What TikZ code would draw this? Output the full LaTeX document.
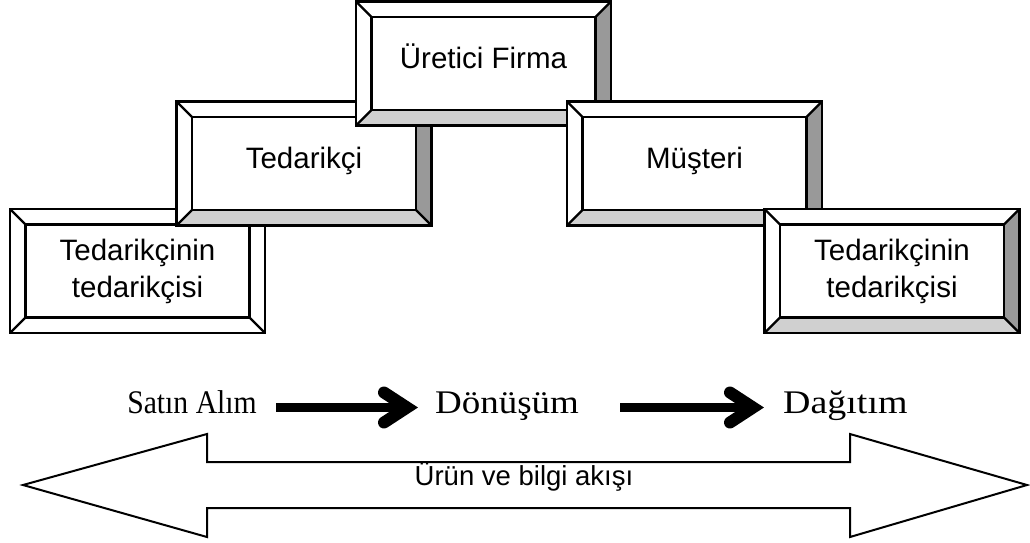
\documentclass[tikz,border=0pt]{standalone}
\usepackage{graphicx}
\usepackage{fontspec}
\setmainfont{Liberation Serif}
\setsansfont{Liberation Sans}
\usetikzlibrary{calc}
\definecolor{bevellight}{HTML}{D0D0D0}
\definecolor{beveldark}{HTML}{999999}
\newcommand\bv{15.5pt}
\begin{document}
\begin{tikzpicture}[x=1pt,y=-1pt,
  bevelbox/.style 2 args={draw=black, line width=2.4pt, fill=white,
    minimum width=255pt, minimum height=124pt, inner sep=0pt, align=center,
    font=\fontsize{29.5}{37}\selectfont\sffamily,
    path picture={
      \path (path picture bounding box.north east) coordinate (pne)
            (path picture bounding box.south east) coordinate (pse)
            (path picture bounding box.south west) coordinate (psw)
            (path picture bounding box.north west) coordinate (pnw);
      \fill[#1] (pne) -- (pse) -- ([shift={(-\bv,\bv)}]pse) -- ([shift={(-\bv,-\bv)}]pne) -- cycle;
      \fill[#2] (psw) -- (pse) -- ([shift={(-\bv,\bv)}]pse) -- ([shift={(\bv,\bv)}]psw) -- cycle;
      \draw[line width=2.4pt, line join=miter]
        ([shift={(\bv,-\bv)}]pnw) rectangle ([shift={(-\bv,\bv)}]pse);
      \draw[line width=2.2pt]
        (pnw) -- ([shift={(\bv,-\bv)}]pnw)
        (pne) -- ([shift={(-\bv,-\bv)}]pne)
        (pse) -- ([shift={(-\bv,\bv)}]pse)
        (psw) -- ([shift={(\bv,\bv)}]psw);
    }},
  oneline/.style={text height=21pt, text depth=11pt},
  stage/.style={font=\fontsize{33}{38}\selectfont\rmfamily, inner sep=0pt},
  shaft/.style={line width=9pt},
  barb/.style={line width=12pt, line cap=round, line join=miter},
  flowarrow/.style={draw=black, line width=2pt, fill=white, line join=miter},
]
\useasboundingbox (0,0) rectangle (1030,542);

% supply chain boxes, back to front
\node[bevelbox={white}{white}] (tt1) at (137.5,271) {Tedarikçinin\\tedarikçisi};
\node[bevelbox={beveldark}{bevellight}, oneline] (ted) at (304,163.5) {Tedarikçi};
\node[bevelbox={beveldark}{bevellight}, oneline] (uf) at (483.5,63.5) {Üretici Firma};
\node[bevelbox={beveldark}{bevellight}, oneline] (mus) at (694.5,163.5) {Müşteri};
\node[bevelbox={beveldark}{bevellight}] (tt2) at (892,271) {Tedarikçinin\\tedarikçisi};

% process stages
\node[stage, anchor=base east] (sa) at (257,413) {\scalebox{0.9}[1]{Satın Alım}};
\node[stage, anchor=base west] (dn) at (435,413) {\scalebox{1.12}[1]{Dönüşüm}};
\node[stage, anchor=base west] (dg) at (783,413) {\scalebox{1.15}[1]{Dağıtım}};

\draw[shaft] ([xshift=19pt,yshift=5.5pt]sa.base east) -- ([xshift=-32pt,yshift=5.5pt]dn.base west);
\draw[barb] ([xshift=-51pt,yshift=20.5pt]dn.base west) -- ([xshift=-28pt,yshift=5.5pt]dn.base west)
  -- ([xshift=-51pt,yshift=-9.5pt]dn.base west);
\draw[shaft] ([xshift=41pt,yshift=5.5pt]dn.base east) -- ([xshift=-34pt,yshift=5.5pt]dg.base west);
\draw[barb] ([xshift=-53pt,yshift=20.5pt]dg.base west) -- ([xshift=-30pt,yshift=5.5pt]dg.base west)
  -- ([xshift=-53pt,yshift=-9.5pt]dg.base west);

% two-way flow of goods and information
\draw[flowarrow] (23,485) -- (207,434) -- (207,462) -- (850,462) -- (850,434) -- (1027,485)
  -- (850,537) -- (850,508) -- (207,508) -- (207,537) -- cycle;
\node[font=\fontsize{27.5}{30}\selectfont\sffamily, anchor=base, inner sep=0pt] (flow) at (524,485) {Ürün ve bilgi akışı};
\end{tikzpicture}
\end{document}
